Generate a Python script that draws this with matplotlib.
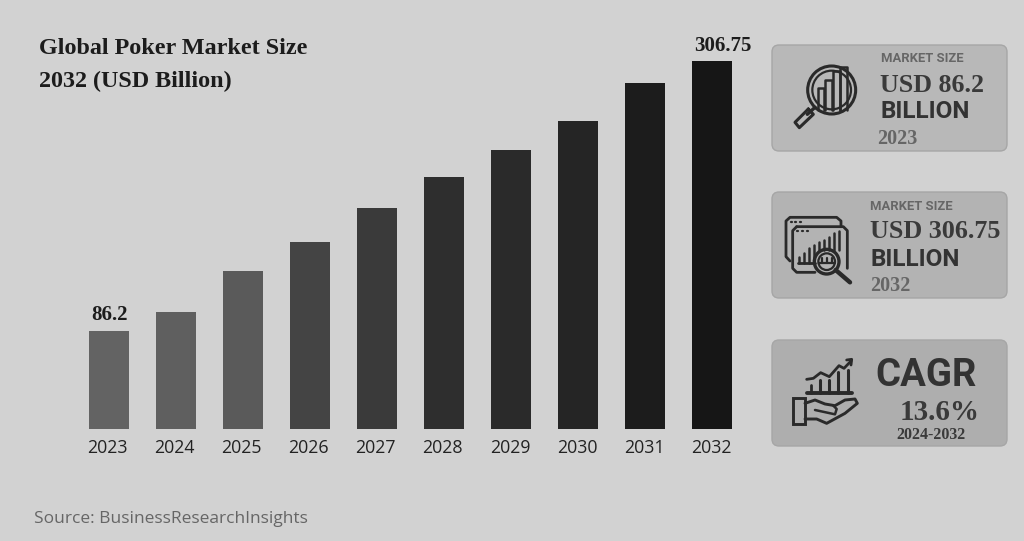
#!/usr/bin/env python3
"""
Global poker market size 2023-2032, bars plus three summary cards
"""

import matplotlib
matplotlib.use('Agg')
import matplotlib.pyplot as plt
from matplotlib.patches import FancyBboxPatch, Circle, Rectangle

years = ['2023', '2024', '2025', '2026', '2027', '2028', '2029', '2030', '2031', '2032']
market_size = [86.2, 101.7, 135.2, 158.9, 186.7, 212.0, 234.0, 257.7, 288.8, 306.75]
bar_colors = ['#636363', '#5f5f5f', '#5a5a5a', '#444444', '#3a3a3a',
              '#2e2e2e', '#2a2a2a', '#252525', '#1c1c1c', '#161616']
value_labels = {0: '86.2', 9: '306.75'}

BG = '#d2d2d2'
CARD_EDGE = '#a6a6a6'
DARK = '#2a2a2a'
SERIF = 'Liberation Serif'

W, H = 1024, 541
fig = plt.figure(figsize=(W / 100, H / 100), dpi=100, facecolor=BG)

# ============================================================================
# BARS
# ============================================================================
ax = fig.add_axes([75.5 / W, (H - 429) / H, 670 / W, 368 / H])
ax.set_facecolor('none')
ax.bar(range(len(years)), market_size, width=0.6, color=bar_colors)
ax.set_xlim(-0.5, 9.5)
ax.set_ylim(6.1, 306.75)  # the bars start a little above zero in the original
ax.set_xticks(range(len(years)))
ax.set_yticks([])
ax.set_xticklabels([])
ax.tick_params(axis='x', length=0)
for side in ax.spines.values():
    side.set_visible(False)

# year labels sit a bit left of the bar centres in the original
for i, year in enumerate(years):
    ax.annotate(year, (i, 0), xycoords=('data', 'axes fraction'), xytext=(-1.4 + 0.1 * i, -7),
                textcoords='offset points', ha='center', va='top',
                fontfamily='Open Sans', fontsize=12.8, color='#222222')

label_shift = {0: (0, 4), 9: (7.5, 3.5)}
for i, label in value_labels.items():
    ax.annotate(label, (i, market_size[i]), xytext=label_shift[i], textcoords='offset points',
                ha='center', va='bottom', fontfamily=SERIF, fontweight='bold',
                fontsize=15, color='#1c1c1c', annotation_clip=False)

# ============================================================================
# OVERLAY IN PIXEL COORDINATES (title, source, cards)
# ============================================================================
ov = fig.add_axes([0, 0, 1, 1])
ov.set_xlim(0, W)
ov.set_ylim(H, 0)
ov.axis('off')
ov.patch.set_alpha(0)


def txt(x, y, s, family, size, color=DARK, weight='bold', ha='left'):
    ov.text(x, y, s, fontfamily=family, fontsize=size, color=color, fontweight=weight,
            ha=ha, va='center')


def card(y0, y1, fc):
    ov.add_patch(FancyBboxPatch((778, y0 + 6), 223, y1 - y0 - 12,
                                boxstyle='round,pad=6,rounding_size=7',
                                fc=fc, ec=CARD_EDGE, lw=1))


def stroke(ox, oy, pts, lw=2.0, color=DARK):
    # points are given in 3x zoomed icon coordinates
    ov.plot([ox + p[0] / 3 for p in pts], [oy + p[1] / 3 for p in pts],
            color=color, lw=lw, solid_capstyle='round', solid_joinstyle='round')


def ring(ox, oy, cx, cy, r, lw=2.0, fc='none'):
    ov.add_patch(Circle((ox + cx / 3, oy + cy / 3), r / 3, fc=fc, ec=DARK, lw=lw))


def bar_outline(ox, oy, x0, x1, top, bottom, lw=1.8):
    stroke(ox, oy, [(x0, bottom), (x0, top), (x1, top), (x1, bottom)], lw)


txt(39, 49, 'Global Poker Market Size', SERIF, 17.4, '#1c1c1c')
txt(39, 81, '2032 (USD Billion)', SERIF, 17.4, '#1c1c1c')
txt(34, 519, 'Source: BusinessResearchInsights', 'Open Sans', 12.5, '#666666', 'normal')

card(45, 151, '#b8b8b8')
card(192, 298, '#b3b3b3')
card(340, 446, '#aeaeae')

# card 1
txt(881, 58, 'MARKET SIZE', 'Roboto', 9.4, '#666666')
txt(880, 86, 'USD 86.2', SERIF, 18.7, '#3a3a3a')
txt(880, 112, 'BILLION', 'Roboto', 17.5, '#333333')
txt(877, 139, '2023', SERIF, 14.5, '#666666')

ox, oy = 770, 35
ring(ox, oy, 185, 165, 72, 2.2)
ring(ox, oy, 185, 165, 58, 1.6)
for x0, x1, top in [(145, 163, 160), (165, 187, 135), (190, 210, 108), (210, 232, 95)]:
    bar_outline(ox, oy, x0, x1, top, 225)
stroke(ox, oy, [(135, 217), (112, 238)], 2.4)
stroke(ox, oy, [(115, 222), (75, 262), (88, 278), (130, 238), (115, 222)], 2.2)

# card 2
txt(870, 206, 'MARKET SIZE', 'Roboto', 9.4, '#666666')
txt(870, 232, 'USD 306.75', SERIF, 18.8, '#3a3a3a')
txt(870, 259, 'BILLION', 'Roboto', 17.5, '#333333')
txt(870, 286, '2032', SERIF, 14.5, '#666666')

ox, oy = 770, 185
stroke(ox, oy, [(60, 228), (48, 215), (48, 108), (60, 97), (200, 97), (213, 108), (213, 125)], 2.0)
stroke(ox, oy, [(80, 125), (220, 125), (232, 137), (232, 250)], 2.0)
stroke(ox, oy, [(80, 125), (68, 137), (68, 250), (80, 262), (135, 262)], 2.0)
for x, y in [(62, 112), (76, 112), (90, 112), (82, 138), (96, 138), (110, 138)]:
    stroke(ox, oy, [(x, y), (x + 3, y)], 1.6)
stroke(ox, oy, [(85, 235), (135, 235)], 2.0)
for x, top in [(88, 215), (103, 205), (118, 190), (133, 180), (148, 172), (163, 165),
               (178, 155), (193, 145), (208, 137)]:
    stroke(ox, oy, [(x, 195 if x > 135 else 235), (x, top)], 1.8)
ring(ox, oy, 170, 230, 37, 2.4, fc='#b3b3b3')
ring(ox, oy, 170, 230, 25, 1.6)
for x in [155, 170, 185]:
    stroke(ox, oy, [(x, 218), (x, 235)], 1.6)
stroke(ox, oy, [(148, 235), (192, 235)], 1.6)
stroke(ox, oy, [(197, 255), (240, 292)], 3.2)

# card 3
txt(875, 375, 'CAGR', 'Roboto', 27.5, '#333333')
txt(900, 413, '13.6%', SERIF, 21, '#3a3a3a')
txt(896, 435, '2024-2032', SERIF, 11.5, '#3a3a3a')

ox, oy = 770, 335
stroke(ox, oy, [(112, 174), (245, 174)], 2.8)
stroke(ox, oy, [(122, 174), (122, 150)], 2.0)
for x, top in [(150, 135), (178, 135), (205, 110), (233, 105)]:
    stroke(ox, oy, [(x, 174), (x, top)], 2.2)
stroke(ox, oy, [(110, 133), (130, 130), (152, 113), (178, 125), (207, 92), (222, 100), (243, 78)], 2.0)
stroke(ox, oy, [(230, 75), (245, 73), (243, 90)], 2.0)
ov.add_patch(Rectangle((ox + 68 / 3, oy + 190 / 3), 37 / 3, 77 / 3, fc='none', ec=DARK, lw=2.1))
stroke(ox, oy, [(105, 205), (135, 195), (165, 207), (195, 212), (225, 195), (255, 192), (262, 205),
                (225, 235), (170, 265), (140, 252), (105, 252)], 2.1)
stroke(ox, oy, [(135, 225), (195, 238), (200, 222), (190, 212)], 1.8)

plt.savefig('out.png', dpi=100, facecolor=BG)
